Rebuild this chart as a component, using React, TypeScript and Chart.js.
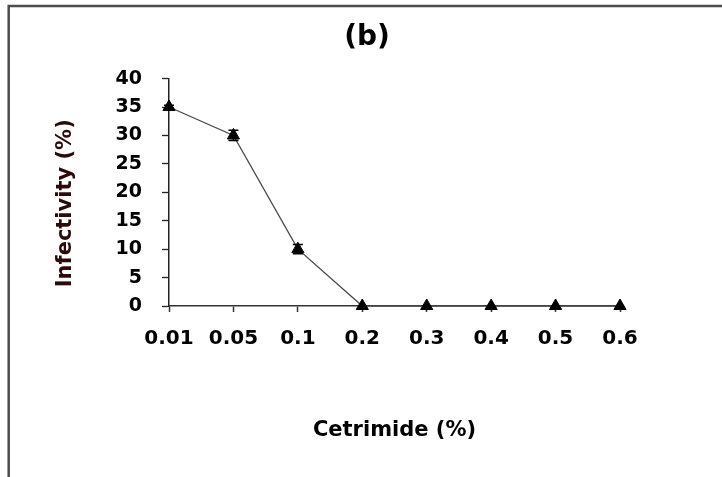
import React, { useEffect, useRef } from "react";
import { Chart, registerables } from "chart.js";

Chart.register(...registerables);

const categories = ["0.01", "0.05", "0.1", "0.2", "0.3", "0.4", "0.5", "0.6"];
const infectivity = [35, 30, 10, 0, 0, 0, 0, 0];
const errors = [0.3, 0.9, 0.8, 0, 0, 0, 0, 0];
const yTicks = [0, 5, 10, 15, 20, 25, 30, 35, 40];

const FONT = "'DejaVu Sans', Verdana, sans-serif";

const frame = {
  id: "frame",
  beforeDraw(chart: any) {
    const ctx = chart.ctx;
    ctx.save();
    ctx.fillStyle = "#fff";
    ctx.fillRect(0, 0, chart.width, chart.height);
    ctx.strokeStyle = "#4d4d4d";
    ctx.lineWidth = 2.5;
    ctx.beginPath();
    ctx.moveTo(8.7, chart.height);
    ctx.lineTo(8.7, 6);
    ctx.lineTo(chart.width, 6);
    ctx.stroke();
    ctx.restore();
  },
};

const errorBars = {
  id: "errorBars",
  afterDatasetsDraw(chart: any) {
    const ctx = chart.ctx;
    const xs = chart.scales.x;
    const ys = chart.scales.y;
    ctx.save();
    ctx.strokeStyle = "#000";
    ctx.lineWidth = 1.5;
    infectivity.forEach((v, i) => {
      const e = errors[i];
      if (!e) return;
      const x = xs.getPixelForValue(i);
      const y1 = ys.getPixelForValue(v + e);
      const y2 = ys.getPixelForValue(v - e);
      ctx.beginPath();
      ctx.moveTo(x, y1);
      ctx.lineTo(x, y2);
      ctx.moveTo(x - 5, y1);
      ctx.lineTo(x + 5, y1);
      ctx.moveTo(x - 5, y2);
      ctx.lineTo(x + 5, y2);
      ctx.stroke();
    });
    ctx.restore();
  },
};

export default function App() {
  const ref = useRef<HTMLCanvasElement>(null);
  useEffect(() => {
    if (!ref.current) return;
    const chart = new Chart(ref.current, {
      type: "line",
      data: {
        labels: categories,
        datasets: [
          {
            data: infectivity,
            borderColor: "#4a4a4a",
            borderWidth: 1.3,
            pointStyle: "triangle",
            pointRadius: 7,
            pointBackgroundColor: "#000",
            pointBorderColor: "#000",
            pointBorderWidth: 1,
            tension: 0,
            clip: false,
          },
        ],
      },
      plugins: [frame, errorBars],
      options: {
        animation: false,
        responsive: false,
        devicePixelRatio: 1,
        layout: { padding: { left: 12, right: 0, top: 0, bottom: 0 } },
        plugins: {
          legend: { display: false },
          tooltip: { enabled: false },
          title: {
            display: true,
            text: "(b)",
            color: "#000",
            font: { family: FONT, size: 28, weight: "bold", lineHeight: 1.2 },
            padding: { top: 21, bottom: 24 },
          },
        },
        scales: {
          x: {
            type: "category",
            offset: false,
            afterFit(scale: any) {
              scale.height = 171;
            },
            grid: {
              drawOnChartArea: false,
              drawTicks: true,
              tickLength: 6,
              tickColor: "#333",
              tickWidth: 1.5,
            },
            border: { display: true, color: "#333", width: 1.5 },
            ticks: {
              color: "#000",
              padding: 15,
              maxRotation: 0,
              autoSkip: false,
              font: { family: FONT, size: 20, weight: "bold" },
            },
            title: {
              display: true,
              text: "Cetrimide (%)",
              color: "#000",
              font: { family: FONT, size: 21, weight: "bold", lineHeight: 1.2 },
              padding: { top: 0, bottom: 34 },
            },
          },
          y: {
            min: 0,
            max: 40,
            afterFit(scale: any) {
              scale.width = 157;
            },
            afterBuildTicks(scale: any) {
              scale.ticks = yTicks.map((v) => ({ value: v }));
            },
            grid: {
              drawOnChartArea: false,
              drawTicks: true,
              tickLength: 7,
              tickColor: "#222",
              tickWidth: 1.3,
            },
            border: { display: true, color: "#222", width: 1.5 },
            ticks: {
              color: "#000",
              padding: 20,
              font: { family: FONT, size: 19, weight: "bold" },
            },
            title: {
              display: true,
              text: "Infectivity (%)   ",
              color: "#2a0a0a",
              font: { family: FONT, size: 21, weight: "bold", lineHeight: 1.2 },
              padding: { top: 41, bottom: 0 },
            },
          },
          ySpacer: {
            type: "linear",
            position: "right",
            display: true,
            min: 0,
            max: 40,
            afterFit(scale: any) {
              scale.width = 102;
            },
            grid: { display: false, drawTicks: false },
            border: { display: false },
            ticks: { display: false },
          },
        },
      },
    } as any);
    return () => chart.destroy();
  }, []);
  return (
    <div style={{ position: "fixed", left: 0, top: 0, width: 722, height: 477, background: "#fff" }}>
      <canvas ref={ref} width={722} height={477} style={{ display: "block", width: 722, height: 477 }} />
    </div>
  );
}
